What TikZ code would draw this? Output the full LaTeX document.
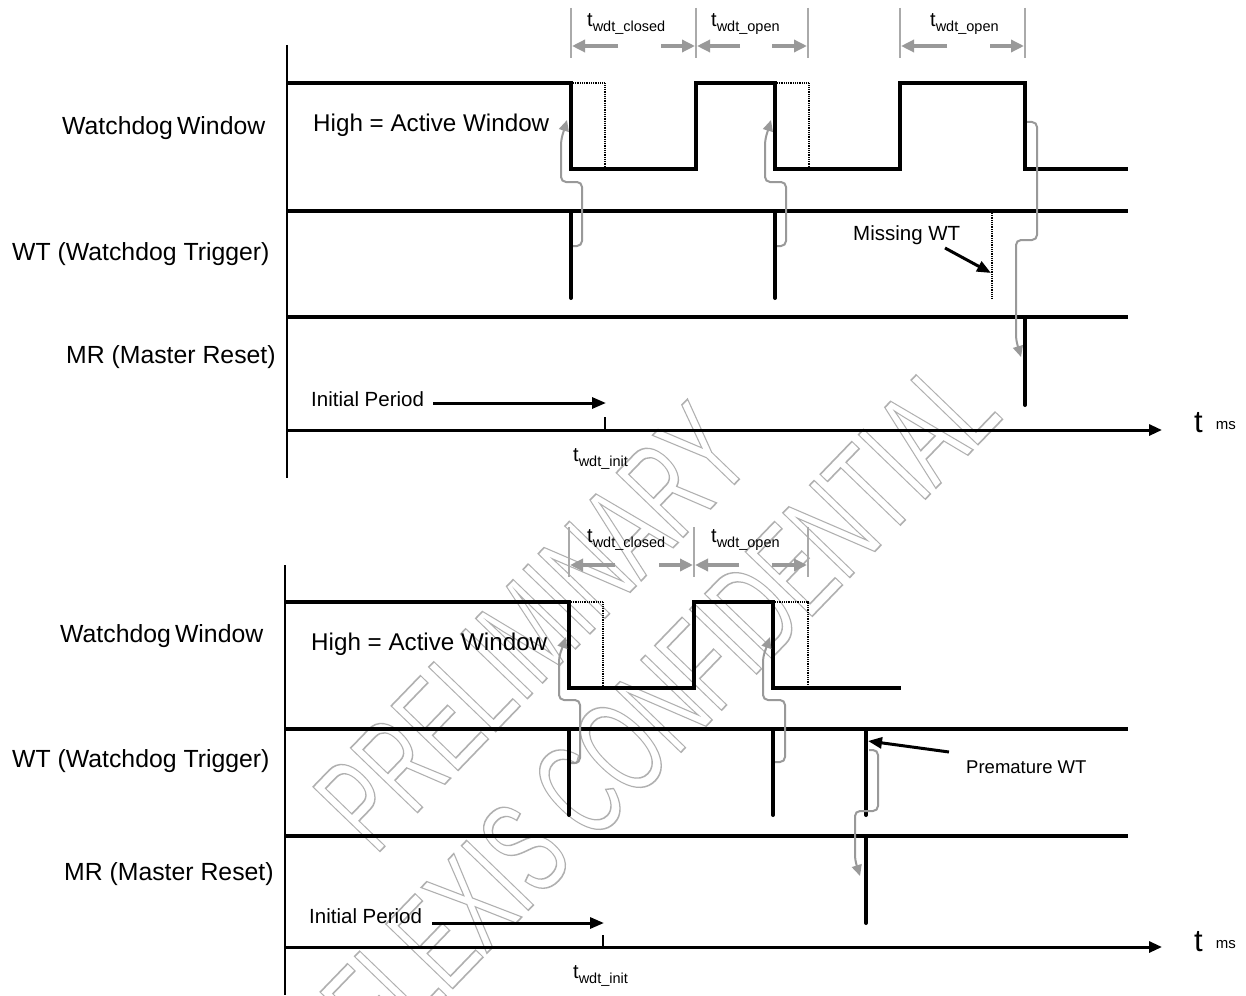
\documentclass[tikz,border=0pt]{standalone}
\usepackage{fontspec}
\setmainfont{Liberation Sans}
\usetikzlibrary{arrows.meta,calc}
\definecolor{cgray}{HTML}{999999}
\definecolor{wmgray}{HTML}{B0B0B0}
\definecolor{tgray}{HTML}{AAAAAA}
\newcommand{\fs}[1]{\fontsize{#1}{#1}\selectfont}
\newcommand{\tsub}[1]{{\fs{20}t}\raisebox{-5pt}{\fs{14.5}#1}}
\newcommand{\tms}{{\fs{31}t}\hspace{13pt}\raisebox{3pt}{\fs{15}ms}}
\newcommand{\outlinetext}[1]{\special{pdf:literal direct 1 Tr 1.6 w}\scalebox{0.6}[1]{#1}\special{pdf:literal direct 0 Tr 0.3985 w}}
\begin{document}
\begin{tikzpicture}[x=1pt,y=-1pt,
  sig/.style={line width=4.5pt, line join=miter},
  hl/.style={line width=4pt},
  pulse/.style={line width=4pt, line cap=round},
  dotl/.style={line width=2pt, dash pattern=on 1pt off 0.8pt},
  conn/.style={cgray, line width=2pt, rounded corners=5pt, -{Triangle[length=11pt,width=10pt]}},
  tline/.style={tgray, line width=1.5pt},
  tarr/.style={cgray, line width=4pt, -{Triangle[length=13pt,width=12pt]}},
  barr/.style={line width=3pt, -{Triangle[length=14pt,width=11pt]}},
  axisl/.style={line width=3pt, -{Triangle[length=13pt,width=11pt]}},
  vax/.style={line width=2pt},
  tick/.style={line width=1.5pt},
  lbl/.style={anchor=base west, inner sep=0pt, font=\fs{24.8}},
  hlbl/.style={anchor=base west, inner sep=0pt, font=\fs{24.2}},
  slbl/.style={anchor=base west, inner sep=0pt, font=\fs{20.5}},
  tlbl/.style={anchor=base west, inner sep=0pt},
  wmtext/.style={rotate=46, inner sep=0pt, font=\fs{135}, text=wmgray}
]
\useasboundingbox[fill=white] (0,0) rectangle (1246,995);

% ---------- watermark ----------
\node[wmtext] (wmp) at (532,627) {\outlinetext{PRELIMINARY}};
\node[wmtext] (wmc) at (660,707) {\outlinetext{FLEXIS CONFIDENTIAL}};

% ================= TOP DIAGRAM =================
\node[lbl] (lw1) at (62,135) {Watchdog\,Window};
\node[lbl] (lt1) at (12,260) {WT (Watchdog Trigger)};
\node[lbl] (lm1) at (66,363) {MR (Master Reset)};
\node[hlbl] (hi1) at (313,132) {High = Active Window};
\node[slbl] (ip1) at (311,406) {Initial Period};
\node[slbl] (mw) at (853,240) {Missing WT};

% timing labels
\node[tlbl] (tc1) at (587,27) {\tsub{wdt\_closed}};
\node[tlbl] (to1) at (711,27) {\tsub{wdt\_open}};
\node[tlbl] (to2) at (930,27) {\tsub{wdt\_open}};
\node[tlbl] (ti1) at (573,461) {\tsub{wdt\_init}};
\node[tlbl] (tm1) at (1194,432) {\tms};

% timing marks
\foreach \x in {571,696,808,900,1025} \draw[tline] (\x,8) -- (\x,58);
\draw[tarr] (618,46) -- (572,46);
\draw[tarr] (661,46) -- (695,46);
\draw[tarr] (740,46) -- (697,46);
\draw[tarr] (772,46) -- (807,46);
\draw[tarr] (947,46) -- (901,46);
\draw[tarr] (990,46) -- (1024,46);

% axes
\draw[vax] (287,45) -- (287,478);
\draw[axisl] (287,430) -- (1162,430);
\draw[tick] (605,417) -- (605,430);
\draw[barr] (433,403) -- (606,403);

% signals
\draw[sig] (287,83) -- (571,83) -- (571,169) -- (696,169) -- (696,83) -- (775,83) -- (775,169)
  -- (900,169) -- (900,83) -- (1025,83) -- (1025,169) -- (1128,169);
\draw[dotl] (573,83) -- (605,83) -- (605,169);
\draw[dotl] (777,83) -- (809,83) -- (809,169);
\draw[hl] (287,211) -- (1128,211);
\draw[pulse] (571,211) -- (571,298);
\draw[pulse] (775,211) -- (775,298);
\draw[dotl] (992,213) -- (992,298);
\draw[hl] (287,317) -- (1128,317);
\draw[pulse] (1025,317) -- (1025,405);

% connectors
\coordinate (a1s) at (573,246); \coordinate (a1e) at (567,120);
\coordinate (a2s) at (777,246); \coordinate (a2e) at (771,120);
\coordinate (a3s) at (1027,122); \coordinate (a3e) at (1021,357);
\draw[conn] (a1s) -| (582,182) -| (561,140) -- (a1e);
\draw[conn] (a2s) -| (786,182) -| (765,140) -- (a2e);
\draw[conn] (a3s) -| (1037,240) -| (1016,340) -- (a3e);
\coordinate (mwt) at (945,248); \coordinate (mwh) at (991,273);
\draw[barr] (mwt) -- (mwh);

% ================= BOTTOM DIAGRAM =================
\node[lbl] (lw2) at (60,642) {Watchdog\,Window};
\node[lbl] (lt2) at (12,767) {WT (Watchdog Trigger)};
\node[lbl] (lm2) at (64,880) {MR (Master Reset)};
\node[hlbl] (hi2) at (311,650) {High = Active Window};
\node[slbl] (ip2) at (309,923) {Initial Period};
\node[anchor=base west, inner sep=0pt, font=\fs{18.5}] (pw) at (966,773) {Premature WT};

\node[tlbl] (tc2) at (587,542) {\tsub{wdt\_closed}};
\node[tlbl] (to3) at (711,542) {\tsub{wdt\_open}};
\node[tlbl] (ti2) at (573,978) {\tsub{wdt\_init}};
\node[tlbl] (tm2) at (1194,951) {\tms};

\foreach \x in {569,694,808} \draw[tline] (\x,527) -- (\x,577);
\draw[tarr] (615,565) -- (570,565);
\draw[tarr] (659,565) -- (693,565);
\draw[tarr] (739,565) -- (695,565);
\draw[tarr] (772,565) -- (807,565);

\draw[vax] (285,565) -- (285,995);
\draw[axisl] (285,947) -- (1162,947);
\draw[tick] (603,935) -- (603,947);
\draw[barr] (432,923) -- (604,923);

\draw[sig] (285,602) -- (569,602) -- (569,688) -- (694,688) -- (694,602) -- (773,602) -- (773,688) -- (901,688);
\draw[dotl] (571,602) -- (603,602) -- (603,688);
\draw[dotl] (775,602) -- (808,602) -- (808,688);
\draw[hl] (285,729) -- (1128,729);
\draw[pulse] (569,729) -- (569,815);
\draw[pulse] (773,729) -- (773,815);
\draw[pulse] (866,729) -- (866,815);
\draw[hl] (285,836) -- (1128,836);
\draw[pulse] (866,836) -- (866,923);

\coordinate (b1s) at (571,763); \coordinate (b1e) at (566,637);
\coordinate (b2s) at (775,762); \coordinate (b2e) at (770,637);
\coordinate (b3s) at (869,750); \coordinate (b3e) at (860,876);
\draw[conn] (b1s) -| (580,700) -| (559,657) -- (b1e);
\draw[conn] (b2s) -| (785,700) -| (763,657) -- (b2e);
\draw[conn] (b3s) -| (878,811) -| (855,860) -- (b3e);
\coordinate (pwt) at (949,752); \coordinate (pwh) at (868,741);
\draw[barr] (pwt) -- (pwh);
\end{tikzpicture}
\end{document}
